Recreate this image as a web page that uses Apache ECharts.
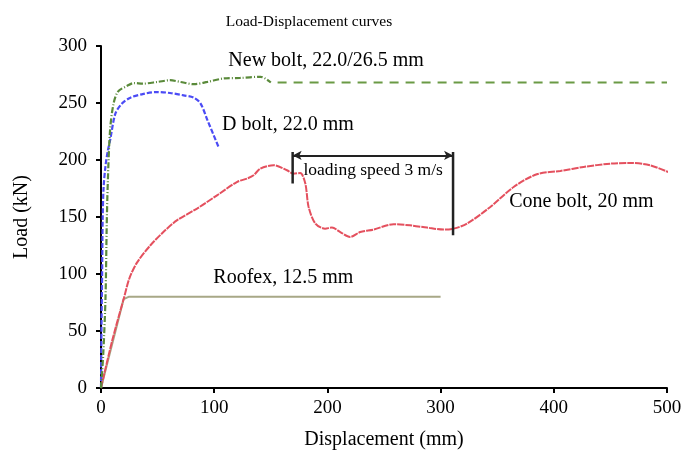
<!DOCTYPE html>
<html>
<head>
<meta charset="utf-8">
<script src="https://cdn.jsdelivr.net/npm/echarts@6/dist/echarts.min.js"></script>
<style>
html, body { margin: 0; padding: 0; background: #fff; }
#chart { width: 684px; height: 450px; }
</style>
</head>
<body>
<div id="chart"></div>
<script>
// 各曲线数据 [位移 mm, 荷载 kN]
var newBolt = [[0,0],[2,30],[4,80],[5,140],[6,180],[8,226],[11,249],[15,260],[23,265],[29,267.5],[37,267],[50,268.5],[61,270],[70,268.5],[82,266.5],[94,268.5],[108,271.5],[123,272],[141,273],[150,268]];
var newBoltExt = [[156,268],[500,268]];
var dBolt = [[0,0],[0.5,60],[1,100],[1.5,150],[2.3,176],[4,195],[6,208],[8,217],[12.7,240.7],[18.5,249.5],[26,254.7],[37.6,258],[49.5,259.6],[61,258.8],[73,256.7],[82,254.7],[88,249.5],[94,235],[104,211]];
var roofex = [[0,0],[20,78],[24.4,80],[300,80]];
var coneBolt = [[0,0],[10,42],[20,78],[25,96],[31.8,110],[43.5,125],[55.3,137],[67,147],[84.8,157.4],[102.5,169],[120,180.7],[129,183.7],[134.8,186.6],[140.8,192.5],[152.5,195.4],[164.3,191],[170,188],[176,188.6],[180.5,179.3],[183.4,158.8],[189.4,144.2],[198,139.8],[204,140.7],[211.4,136.8],[220,132.5],[229,136.8],[240.8,139],[258.5,143.6],[273,142.7],[288,140.7],[302.6,139],[311.5,139.8],[323.3,144.2],[343.9,158.8],[364.5,176.3],[385,187.5],[405.8,190.4],[426.3,193.9],[450,196.8],[467.6,197.4],[485,195.4],[501,189.5]];
// 加载速度区间标注
var speedLeft = [[169.3,207],[169.3,179.3]];
var speedRight = [[311,207],[311,134]];
var speedArrow = [169.3, 311, 204];
// 文字标注 [x, y, 文本, 字号]
var labels = [
	[112.5, 287.5, 'New bolt, 22.0/26.5 mm', 20],
	[107, 231, 'D bolt, 22.0 mm', 20],
	[360.6, 163.8, 'Cone bolt, 20 mm', 20],
	[99.2, 97, 'Roofex, 12.5 mm', 20],
	[178.8, 190.8, 'loading speed 3 m/s', 17.5]
];
var xTicks = [0, 500, 100];
var yTicks = [0, 300, 50];

var font = '"Liberation Serif", "Times New Roman", serif';
var myChart = echarts.init(document.getElementById('chart'));

var option = {
	animation: false,
	title: {
		text: 'Load-Displacement curves',
		left: 304,
		textAlign: 'center',
		top: 9,
		textStyle: { fontFamily: font, fontSize: 15.5, fontWeight: 'normal', color: '#000' }
	},
	grid: { left: 101, right: 17, top: 46, bottom: 62, containLabel: false, outerBoundsMode: 'none' },
	xAxis: {
		type: 'value',
		min: xTicks[0], max: xTicks[1], interval: xTicks[2],
		name: 'Displacement (mm)',
		nameLocation: 'middle',
		nameGap: 42,
		nameTextStyle: { fontFamily: font, fontSize: 20, color: '#000' },
		axisLine: { show: true, lineStyle: { color: '#000', width: 2 } },
		axisTick: { show: true, length: 5, lineStyle: { color: '#000', width: 2 } },
		axisLabel: { fontFamily: font, fontSize: 19, color: '#000', margin: 11 },
		splitLine: { show: false }
	},
	yAxis: {
		type: 'value',
		min: yTicks[0], max: yTicks[1], interval: yTicks[2],
		name: 'Load (kN)',
		nameLocation: 'middle',
		nameGap: 69,
		nameTextStyle: { fontFamily: font, fontSize: 20, color: '#000' },
		axisLine: { show: true, lineStyle: { color: '#000', width: 2 } },
		axisTick: { show: true, length: 5, lineStyle: { color: '#000', width: 2 } },
		axisLabel: { fontFamily: font, fontSize: 19, color: '#000', margin: 14 },
		splitLine: { show: false }
	},
	series: [{
		name: 'Roofex',
		type: 'line',
		data: roofex,
		showSymbol: false,
		lineStyle: { color: '#a8a887', width: 2 }
	}, {
		name: 'Cone bolt',
		type: 'line',
		data: coneBolt,
		showSymbol: false,
		smooth: 0.3,
		lineStyle: { color: '#e4505e', width: 2, type: [7, 1] }
	}, {
		name: 'D bolt',
		type: 'line',
		data: dBolt,
		showSymbol: false,
		smooth: 0.3,
		lineStyle: { color: '#4b4bf5', width: 2.2, type: [5, 2] }
	}, {
		name: 'New bolt',
		type: 'line',
		data: newBolt,
		showSymbol: false,
		smooth: 0.3,
		lineStyle: { color: '#5a8a3a', width: 2.2, type: [6, 2, 1, 2] }
	}, {
		name: 'New bolt ext',
		type: 'line',
		data: newBoltExt,
		showSymbol: false,
		lineStyle: { color: '#6a9a45', width: 2, type: [9, 7] }
	}, {
		name: 'speed left',
		type: 'line',
		data: speedLeft,
		showSymbol: false,
		lineStyle: { color: '#222', width: 2.5 }
	}, {
		name: 'speed right',
		type: 'line',
		data: speedRight,
		showSymbol: false,
		lineStyle: { color: '#222', width: 2.5 },
		markLine: {
			silent: true,
			symbol: ['arrow', 'arrow'],
			symbolSize: [7, 9],
			label: { show: false },
			lineStyle: { color: '#222', width: 2, type: 'solid' },
			data: [[{ coord: [speedArrow[0], speedArrow[2]] }, { coord: [speedArrow[1], speedArrow[2]] }]]
		}
	}, {
		name: 'labels',
		type: 'scatter',
		symbolSize: 0,
		itemStyle: { opacity: 1 },
		data: labels.map(function (d) {
			return {
				value: [d[0], d[1]],
				label: {
					show: true, position: 'right', distance: 0,
					formatter: d[2], opacity: 1,
					fontFamily: font, fontSize: d[3], color: '#000'
				}
			};
		})
	}]
};

myChart.setOption(option);
</script>
</body>
</html>
